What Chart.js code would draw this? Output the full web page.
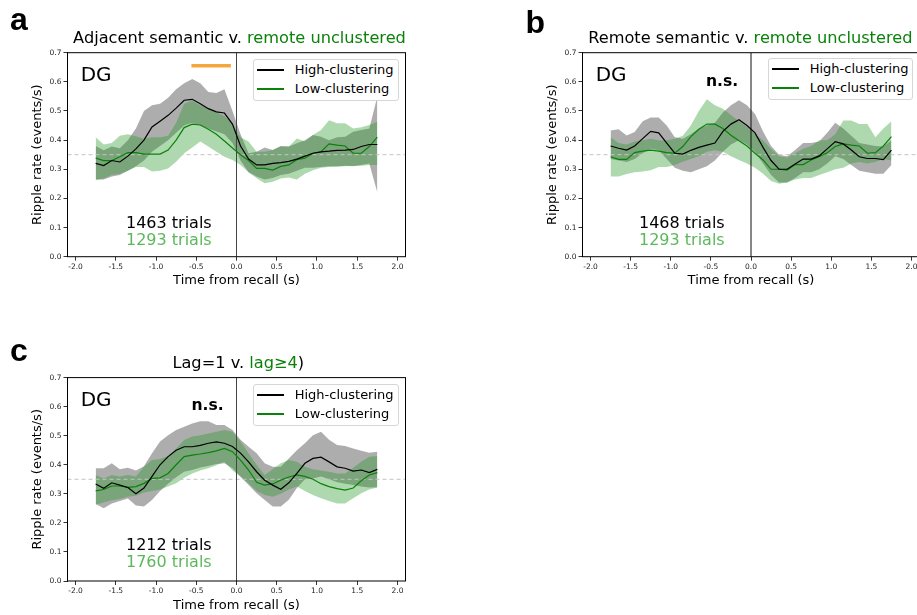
<!DOCTYPE html>
<html><head><meta charset="utf-8">
<script src="https://cdn.jsdelivr.net/npm/chart.js@4.4.0/dist/chart.umd.min.js"></script>
<style>
html,body{margin:0;padding:0;width:917px;height:615px;overflow:hidden;background:#fff;position:relative;}
canvas{position:absolute;}
.t{position:absolute;white-space:nowrap;line-height:1;font-family:"DejaVu Sans",sans-serif;color:#000;}
.lg{position:absolute;border:1px solid #d6d6d6;border-radius:3px;background:#fff;box-sizing:border-box;}
.ln{position:absolute;height:1.5px;}
</style></head><body>
<canvas id="ca"></canvas>
<canvas id="cb"></canvas>
<canvas id="cc"></canvas>
<script>
// ---------- data ----------
const TIME = [-1.75,-1.65,-1.55,-1.45,-1.35,-1.25,-1.15,-1.05,-0.95,-0.85,-0.75,-0.65,-0.55,-0.45,-0.35,-0.25,-0.15,-0.05,
              0.05,0.15,0.25,0.35,0.45,0.55,0.65,0.75,0.85,0.95,1.05,1.15,1.25,1.35,1.45,1.55,1.65,1.75];
const X_TICKS = [-2.0,-1.5,-1.0,-0.5,0.0,0.5,1.0,1.5,2.0];
const Y_TICKS = [0.0,0.1,0.2,0.3,0.4,0.5,0.6,0.7];
const BASELINE_RATE = 0.35;
const SERIES_NAMES = ['High-clustering','Low-clustering'];

// Panel a: Adjacent semantic v. remote unclustered
const A_HIGH    = [0.32,0.313,0.33,0.325,0.345,0.37,0.40,0.445,0.465,0.485,0.51,0.537,0.54,0.525,0.508,0.497,0.493,0.455,
                   0.38,0.335,0.315,0.315,0.32,0.323,0.327,0.335,0.345,0.355,0.36,0.362,0.365,0.366,0.368,0.378,0.385,0.385];
const A_HIGH_UP = [0.38,0.365,0.378,0.372,0.40,0.44,0.50,0.52,0.525,0.545,0.575,0.595,0.61,0.595,0.565,0.562,0.575,0.50,
                   0.42,0.355,0.36,0.375,0.366,0.38,0.378,0.389,0.40,0.418,0.412,0.40,0.41,0.412,0.429,0.435,0.44,0.55];
const A_HIGH_LO = [0.265,0.265,0.275,0.28,0.295,0.31,0.33,0.36,0.38,0.40,0.425,0.45,0.46,0.45,0.44,0.43,0.42,0.39,
                   0.33,0.29,0.275,0.265,0.27,0.28,0.285,0.295,0.305,0.305,0.308,0.31,0.31,0.312,0.31,0.315,0.32,0.22];
const A_LOW     = [0.338,0.33,0.33,0.343,0.357,0.357,0.352,0.352,0.352,0.366,0.40,0.443,0.455,0.452,0.437,0.42,0.397,0.373,
                   0.35,0.33,0.303,0.303,0.297,0.31,0.315,0.333,0.338,0.355,0.36,0.387,0.383,0.38,0.355,0.355,0.378,0.41];
const A_LOW_UP  = [0.41,0.385,0.39,0.415,0.42,0.413,0.405,0.41,0.41,0.415,0.46,0.525,0.535,0.52,0.51,0.495,0.483,0.455,
                   0.41,0.395,0.36,0.36,0.366,0.378,0.378,0.406,0.395,0.418,0.435,0.468,0.458,0.458,0.44,0.444,0.452,0.463];
const A_LOW_LO  = [0.263,0.268,0.28,0.285,0.295,0.308,0.308,0.292,0.295,0.303,0.326,0.355,0.375,0.395,0.378,0.36,0.343,0.332,
                   0.315,0.29,0.269,0.252,0.257,0.268,0.272,0.265,0.285,0.297,0.305,0.308,0.309,0.31,0.312,0.312,0.315,0.315];
const A_SIG_X = [-0.56,-0.07];
const A_SIG_Y = 0.655;

// Panel b: Remote semantic v. remote unclustered
const B_HIGH    = [0.38,0.372,0.366,0.38,0.405,0.43,0.425,0.39,0.355,0.352,0.365,0.375,0.383,0.39,0.43,0.455,0.47,0.45,
                   0.425,0.375,0.33,0.30,0.30,0.318,0.335,0.335,0.346,0.37,0.395,0.387,0.366,0.343,0.337,0.337,0.333,0.366];
const B_HIGH_UP = [0.433,0.437,0.416,0.428,0.465,0.478,0.478,0.45,0.41,0.405,0.42,0.44,0.45,0.46,0.495,0.52,0.537,0.52,
                   0.49,0.43,0.38,0.35,0.345,0.366,0.39,0.39,0.395,0.425,0.46,0.44,0.415,0.39,0.385,0.38,0.378,0.40];
const B_HIGH_LO = [0.335,0.33,0.325,0.335,0.355,0.37,0.365,0.335,0.305,0.295,0.29,0.30,0.31,0.33,0.36,0.385,0.40,0.385,
                   0.36,0.32,0.28,0.255,0.255,0.27,0.29,0.29,0.30,0.32,0.345,0.335,0.315,0.295,0.29,0.285,0.285,0.315];
const B_LOW     = [0.343,0.334,0.334,0.357,0.362,0.366,0.362,0.357,0.355,0.378,0.412,0.437,0.455,0.455,0.44,0.417,0.398,0.38,
                   0.355,0.332,0.30,0.30,0.297,0.316,0.316,0.332,0.343,0.357,0.378,0.387,0.383,0.38,0.355,0.357,0.38,0.412];
const B_LOW_UP  = [0.41,0.39,0.385,0.395,0.40,0.405,0.40,0.40,0.405,0.415,0.45,0.50,0.54,0.52,0.508,0.486,0.465,0.445,
                   0.42,0.40,0.37,0.345,0.34,0.355,0.37,0.38,0.40,0.40,0.42,0.467,0.467,0.455,0.455,0.41,0.44,0.465];
const B_LOW_LO  = [0.275,0.275,0.284,0.29,0.292,0.297,0.308,0.308,0.315,0.326,0.335,0.345,0.36,0.365,0.36,0.345,0.332,0.32,
                   0.305,0.285,0.26,0.25,0.255,0.265,0.27,0.27,0.28,0.29,0.30,0.305,0.32,0.325,0.32,0.325,0.335,0.33];

// Panel c: Lag=1 v. lag>=4
const C_HIGH    = [0.334,0.319,0.338,0.33,0.322,0.30,0.32,0.36,0.40,0.428,0.45,0.462,0.462,0.467,0.474,0.479,0.474,0.463,
                   0.44,0.41,0.376,0.347,0.33,0.316,0.338,0.37,0.405,0.422,0.426,0.41,0.393,0.388,0.378,0.382,0.373,0.384];
const C_HIGH_UP = [0.388,0.388,0.405,0.385,0.39,0.38,0.395,0.44,0.48,0.502,0.52,0.531,0.542,0.55,0.55,0.537,0.537,0.52,
                   0.486,0.462,0.44,0.405,0.393,0.393,0.422,0.45,0.474,0.502,0.514,0.486,0.468,0.465,0.456,0.448,0.441,0.445];
const C_HIGH_LO = [0.265,0.25,0.267,0.275,0.284,0.26,0.256,0.279,0.31,0.335,0.357,0.376,0.382,0.391,0.396,0.403,0.405,0.388,
                   0.359,0.33,0.302,0.279,0.256,0.256,0.28,0.32,0.35,0.353,0.36,0.35,0.34,0.335,0.33,0.325,0.322,0.323];
const C_LOW     = [0.31,0.315,0.327,0.327,0.322,0.325,0.336,0.353,0.355,0.37,0.40,0.428,0.433,0.437,0.442,0.448,0.456,0.445,
                   0.416,0.382,0.34,0.33,0.334,0.347,0.358,0.365,0.36,0.35,0.335,0.325,0.318,0.313,0.32,0.345,0.365,0.373];
const C_LOW_UP  = [0.365,0.353,0.365,0.36,0.365,0.36,0.393,0.416,0.42,0.43,0.456,0.485,0.497,0.502,0.508,0.514,0.52,0.514,
                   0.48,0.44,0.40,0.365,0.385,0.405,0.416,0.41,0.393,0.385,0.38,0.376,0.37,0.37,0.39,0.41,0.428,0.43];
const C_LOW_LO  = [0.262,0.27,0.278,0.282,0.29,0.293,0.305,0.31,0.315,0.325,0.336,0.355,0.37,0.38,0.388,0.398,0.41,0.38,
                   0.36,0.336,0.31,0.296,0.29,0.30,0.315,0.325,0.31,0.296,0.285,0.275,0.267,0.267,0.285,0.302,0.315,0.322];

// ---------- styling ----------
const BLACK = '#000000';
const GREEN = '#0a820a';
const GREEN_LIGHT_TEXT = '#5cb85c';
const GREY_FILL = 'rgba(0,0,0,0.32)';
const GREEN_FILL = 'rgba(30,150,30,0.36)';
const ORANGE = '#f5a73f';
const FONT = '"DejaVu Sans", sans-serif';

const spines = {
  id: 'spines',
  afterDatasetsDraw(c) {
    const {ctx, chartArea: a} = c;
    ctx.save();
    ctx.strokeStyle = '#000'; ctx.lineWidth = 1;
    ctx.strokeRect(a.left, a.top, a.right - a.left, a.bottom - a.top);
    ctx.restore();
  }
};

function pts(ys) { return TIME.map((t, i) => ({x: t, y: ys[i]})); }

function makePanel(id, P) {
  const cv = document.getElementById(id);
  cv.style.left = P.cl + 'px'; cv.style.top = P.ct + 'px';
  cv.style.width = P.cw + 'px'; cv.style.height = P.ch + 'px';
  cv.width = P.cw; cv.height = P.ch;
  const band = (d, fill, col, order) => ({data: pts(d), fill: fill, backgroundColor: col, borderWidth: 0, borderColor: 'rgba(0,0,0,0)', pointRadius: 0, order: order});
  const datasets = [
    band(P.hiUp, '+1', GREY_FILL, 10),
    band(P.hiLo, false, GREY_FILL, 10),
    band(P.loUp, '+1', GREEN_FILL, 9),
    band(P.loLo, false, GREEN_FILL, 9),
    {data: [{x: -2.1, y: BASELINE_RATE}, {x: 2.1, y: BASELINE_RATE}], borderColor: '#c4c4c4', borderDash: [4, 3], borderWidth: 1, pointRadius: 0, fill: false, order: 8},
    {data: [{x: 0, y: 0}, {x: 0, y: 0.7}], borderColor: P.vColor, borderWidth: 1, pointRadius: 0, fill: false, order: 7},
    {label: SERIES_NAMES[1], data: pts(P.lo), borderColor: GREEN, borderWidth: 1.2, pointRadius: 0, fill: false, order: 2},
    {label: SERIES_NAMES[0], data: pts(P.hi), borderColor: BLACK, borderWidth: 1.2, pointRadius: 0, fill: false, order: 1},
  ];
  if (P.sigX) {
    datasets.push({data: P.sigX.map(x => ({x: x, y: P.sigY})), borderColor: ORANGE, borderWidth: 3.5, borderCapStyle: 'butt', pointRadius: 0, fill: false, order: 0});
  }
  new Chart(cv, {
    type: 'line',
    data: {datasets},
    plugins: [spines],
    options: {
      responsive: false, animation: false, events: [],
      layout: {padding: {top: P.padTop, right: P.padRight, left: 0, bottom: 0}},
      plugins: {legend: {display: false}, tooltip: {enabled: false}},
      elements: {line: {tension: 0}},
      scales: {
        x: {
          type: 'linear', min: -2.1, max: 2.1,
          afterBuildTicks: s => { s.ticks = X_TICKS.map(v => ({value: v})); },
          afterFit: s => { s.height = P.xh; },
          grid: {display: true, drawOnChartArea: false, drawTicks: true, tickLength: 4, color: '#000', lineWidth: 0.8},
          border: {display: false},
          ticks: {font: {size: 7.5, family: FONT}, color: '#222', padding: 2, maxRotation: 0, autoSkip: false, callback: v => v.toFixed(1)},
          title: {display: true, text: 'Time from recall (s)', font: {size: 13, family: FONT}, color: '#000', padding: {top: 0, bottom: P.xtPad}}
        },
        y: {
          type: 'linear', min: 0, max: 0.7,
          afterBuildTicks: s => { s.ticks = Y_TICKS.map(v => ({value: v})); },
          afterFit: s => { s.width = P.yw; },
          grid: {display: true, drawOnChartArea: false, drawTicks: true, tickLength: 4, color: '#000', lineWidth: 0.8},
          border: {display: false},
          ticks: {font: {size: 7.5, family: FONT}, color: '#222', padding: 2, autoSkip: false, callback: v => v.toFixed(1)},
          title: {display: true, text: 'Ripple rate (events/s)', font: {size: 13, family: FONT}, color: '#000', padding: {top: 30.2, bottom: 0}}
        }
      }
    }
  });
}

makePanel('ca', {cl: 0, ct: 0, cw: 420, ch: 300, yw: 67.5, padTop: 52.7, padRight: 14.5, xh: 43.3, xtPad: 11.2, vColor: '#444',
  hi: A_HIGH, hiUp: A_HIGH_UP, hiLo: A_HIGH_LO, lo: A_LOW, loUp: A_LOW_UP, loLo: A_LOW_LO, sigX: A_SIG_X, sigY: A_SIG_Y});
makePanel('cb', {cl: 514.5, ct: 0, cw: 419.5, ch: 300, yw: 67.5, padTop: 52.7, padRight: 14.5, xh: 43.3, xtPad: 11.2, vColor: '#111',
  hi: B_HIGH, hiUp: B_HIGH_UP, hiLo: B_HIGH_LO, lo: B_LOW, loUp: B_LOW_UP, loLo: B_LOW_LO});
makePanel('cc', {cl: 0, ct: 325, cw: 420, ch: 290, yw: 67.5, padTop: 52.6, padRight: 14.5, xh: 34, xtPad: 1.7, vColor: '#444',
  hi: C_HIGH, hiUp: C_HIGH_UP, hiLo: C_HIGH_LO, lo: C_LOW, loUp: C_LOW_UP, loLo: C_LOW_LO});

// ---------- text overlays ----------
function addText(parts, x, baseline, size, o) {
  o = o || {};
  const d = document.createElement('div');
  d.className = 't';
  d.style.fontSize = size + 'px';
  if (o.family) d.style.fontFamily = o.family;
  if (o.weight) d.style.fontWeight = o.weight;
  d.style.top = (baseline - 0.846 * size) + 'px';
  d.style.left = x + 'px';
  if (o.align === 'center') d.style.transform = 'translateX(-50%)';
  parts.forEach(p => { const s = document.createElement('span'); s.textContent = p[0]; s.style.color = p[1]; d.appendChild(s); });
  document.body.appendChild(d);
}
function addLegend(x0, y0, w, h, lineY1, lineY2, lx1, lx2, tx, tb1, tb2) {
  const b = document.createElement('div');
  b.className = 'lg';
  b.style.left = x0 + 'px'; b.style.top = y0 + 'px'; b.style.width = w + 'px'; b.style.height = h + 'px';
  document.body.appendChild(b);
  [[lineY1, BLACK], [lineY2, GREEN]].forEach(([y, c]) => {
    const l = document.createElement('div'); l.className = 'ln';
    l.style.left = Math.round(lx1) + 'px'; l.style.width = Math.round(lx2 - lx1) + 'px'; l.style.top = Math.round(y - 0.75) + 'px'; l.style.background = c;
    document.body.appendChild(l);
  });
  addText([[SERIES_NAMES[0], '#000']], tx, tb1, 13);
  addText([[SERIES_NAMES[1], '#000']], tx, tb2, 13);
}

const LETTER_FONT = '"Liberation Sans", Arial, sans-serif';
addText([['a', '#000']], 10, 30, 32, {family: LETTER_FONT, weight: 'bold'});
addText([['b', '#000']], 525.5, 33.3, 32, {family: LETTER_FONT, weight: 'bold'});
addText([['c', '#000']], 10, 361, 32, {family: LETTER_FONT, weight: 'bold'});

addText([['Adjacent semantic v. ', '#000'], ['remote unclustered', GREEN]], 239.5, 43.3, 16.2, {align: 'center'});
addText([['Remote semantic v. ', '#000'], ['remote unclustered', GREEN]], 750.3, 43.3, 16.2, {align: 'center'});
addText([['Lag=1 v. ', '#000'], ['lag\u22654', GREEN], [')', '#000']], 238.3, 368.3, 16.2, {align: 'center'});

addText([['DG', '#000']], 80.7, 80.7, 20);
addText([['DG', '#000']], 595.7, 80.7, 20);
addText([['DG', '#000']], 80.7, 406, 20);

addText([['n.s.', '#000']], 722, 86.7, 15.6, {align: 'center', weight: 'bold'});
addText([['n.s.', '#000']], 207.5, 410.7, 15.6, {align: 'center', weight: 'bold'});

addText([['1463 trials', '#000']], 126, 228.3, 16);
addText([['1293 trials', GREEN_LIGHT_TEXT]], 126, 245.7, 16);
addText([['1468 trials', '#000']], 639, 228.3, 16);
addText([['1293 trials', GREEN_LIGHT_TEXT]], 639, 245.7, 16);
addText([['1212 trials', '#000']], 126, 550.7, 16);
addText([['1760 trials', GREEN_LIGHT_TEXT]], 126, 567.3, 16);

addLegend(252.7, 59, 146.3, 42, 69.3, 88.3, 257, 284, 294.7, 73.8, 92.8);
addLegend(767.7, 58, 145, 42, 68.3, 87.3, 772.3, 799, 809.7, 72.8, 91.8);
addLegend(252.7, 384, 146, 42, 394.3, 413.3, 257, 284, 294.7, 398.8, 417.8);
</script>
</body></html>
